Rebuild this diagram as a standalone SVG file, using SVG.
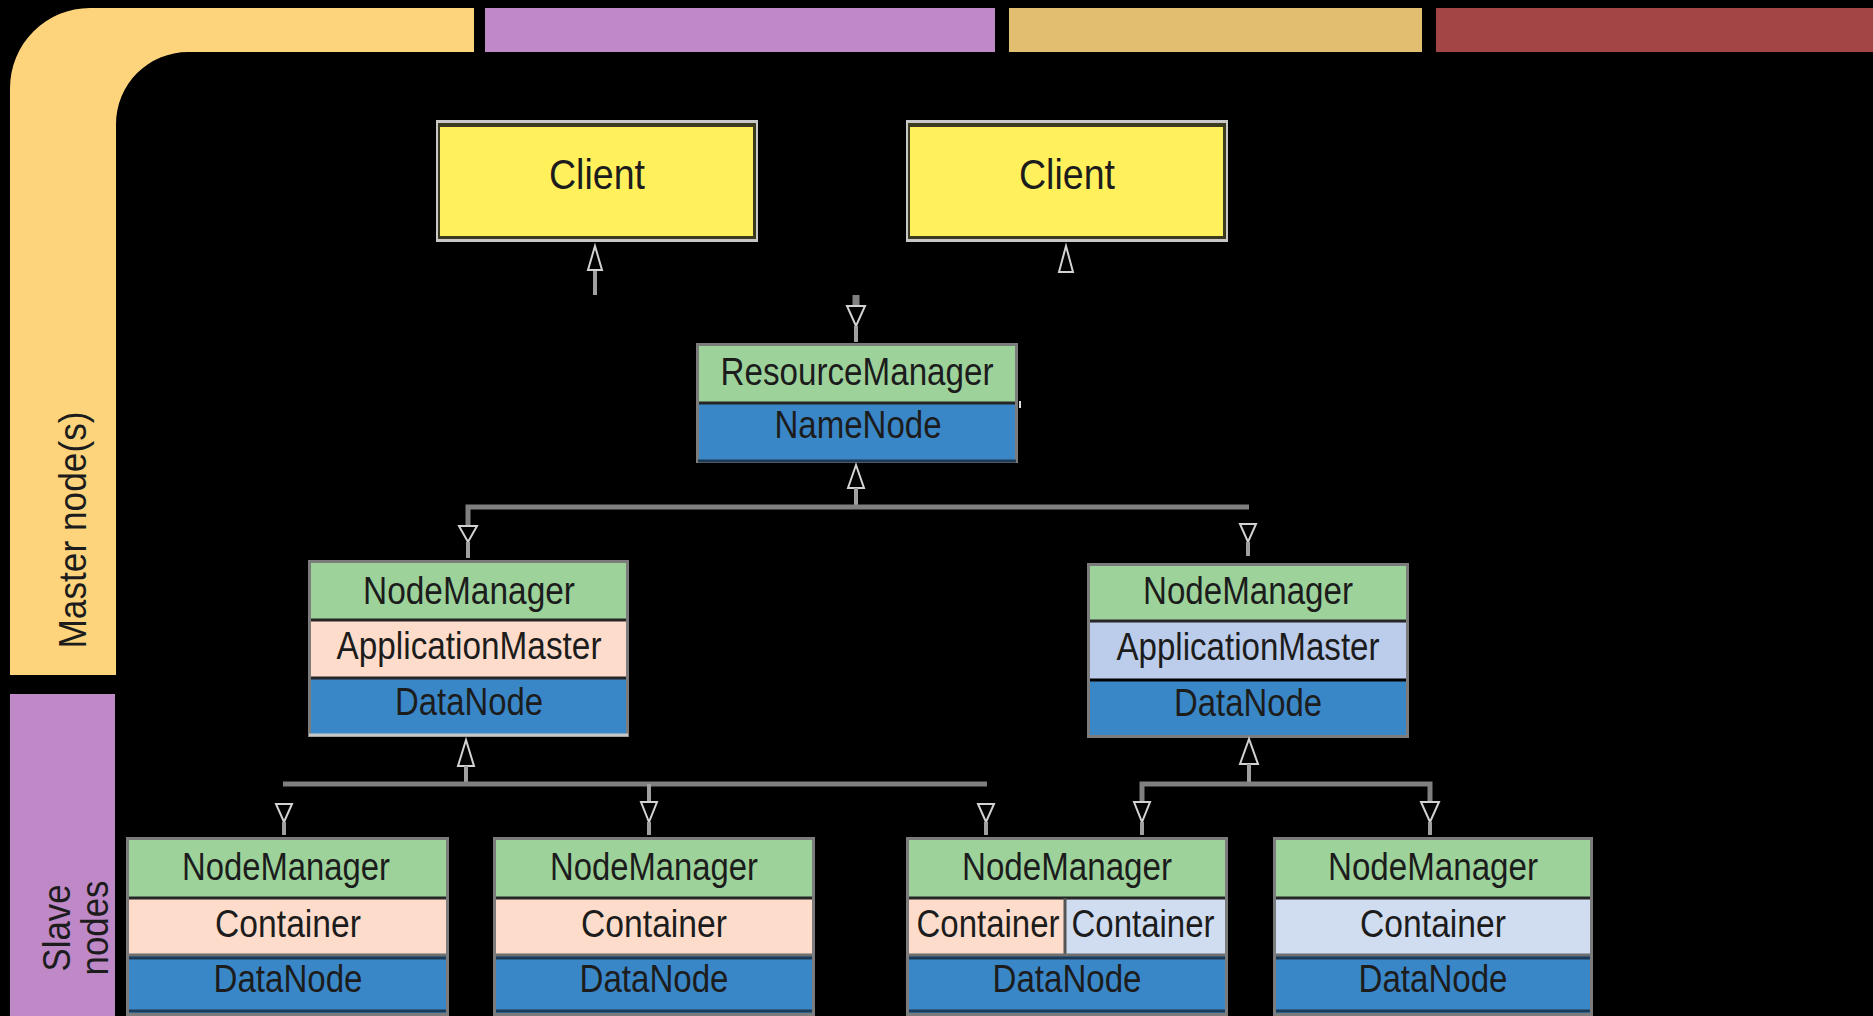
<svg xmlns="http://www.w3.org/2000/svg" width="1873" height="1016" viewBox="0 0 1873 1016">
  <defs>
    <style>
      .lbl { font-family: "Liberation Sans", Arial, sans-serif; fill: #1c1c1c; text-anchor: middle; }
      .t38 { font-size: 38px; }
      .t42 { font-size: 42px; }
      .green { fill: #9dd39b; }
      .peach { fill: #fedccb; }
      .lblue { fill: #bbcdeb; }
      .cblue { fill: #d0ddf1; }
      .blue { fill: #3a87c8; }
      .yellow { fill: #fff05c; }
      .sep { stroke: #262626; stroke-width: 3; }
      .frame { fill: none; stroke: #7c7c7c; stroke-width: 3; }
      .wire { fill: none; stroke: #808080; stroke-width: 5; }
      .stem { fill: none; stroke: #a0a0a0; stroke-width: 4; }
      .head { fill: #000; stroke: #d2d2d2; stroke-width: 2; }
    </style>
  </defs>

  <!-- backdrop -->
  <rect x="0" y="0" width="1873" height="1016" fill="#000"/>

  <!-- coloured bands along the top and left edge -->
  <g id="bands">
    <path d="M10 675 L10 88 A80 80 0 0 1 90 8 L474 8 L474 52 L188 52 A72 72 0 0 0 116 124 L116 675 Z" fill="#fdd47c"/>
    <rect x="485" y="8" width="510" height="44" fill="#bf89c8"/>
    <rect x="1009" y="8" width="413" height="44" fill="#e2be70"/>
    <rect x="1436" y="8" width="437" height="44" fill="#a34545"/>
    <rect x="10" y="694" width="105" height="322" fill="#bf89c8"/>
  </g>

  <!-- band captions -->
  <g id="band-labels">
    <text class="lbl t38" transform="translate(86 530) rotate(-90)" textLength="237" lengthAdjust="spacingAndGlyphs">Master node(s)</text>
    <text class="lbl t38" transform="translate(70 928) rotate(-90)" textLength="87" lengthAdjust="spacingAndGlyphs">Slave</text>
    <text class="lbl t38" transform="translate(108 928) rotate(-90)" textLength="95" lengthAdjust="spacingAndGlyphs">nodes</text>
  </g>

  <!-- clients -->
  <g id="client-1">
    <rect x="436" y="120" width="322" height="122" fill="#c8c8c8"/>
    <rect x="438" y="123" width="318" height="116" fill="#3d3b1f"/>
    <rect x="440" y="127" width="313" height="109" class="yellow"/>
    <text class="lbl t42" x="597" y="189" textLength="96" lengthAdjust="spacingAndGlyphs">Client</text>
  </g>
  <g id="client-2">
    <rect x="906" y="120" width="322" height="122" fill="#c8c8c8"/>
    <rect x="908" y="123" width="318" height="116" fill="#3d3b1f"/>
    <rect x="910" y="127" width="313" height="109" class="yellow"/>
    <text class="lbl t42" x="1067" y="189" textLength="96" lengthAdjust="spacingAndGlyphs">Client</text>
  </g>

  <!-- resource manager -->
  <g id="resource-manager">
    <rect x="697" y="344" width="320" height="59" class="green"/>
    <rect x="697" y="403" width="320" height="58" class="blue"/>
    <line x1="697" y1="403" x2="1017" y2="403" class="sep"/>
    <rect x="697.5" y="344.5" width="319" height="117" class="frame" stroke="#9a9a9a"/>
    <line x1="698" y1="461" x2="1016" y2="461" stroke="#1e3a55" stroke-width="3"/>
    <line x1="1020" y1="401" x2="1020" y2="408" stroke="#e0e0e0" stroke-width="2"/>
    <text class="lbl t38" x="857" y="385" textLength="273" lengthAdjust="spacingAndGlyphs">ResourceManager</text>
    <text class="lbl t38" x="858" y="438" textLength="167" lengthAdjust="spacingAndGlyphs">NameNode</text>
  </g>

  <!-- node managers hosting application masters -->
  <g id="nm-am-left">
    <rect x="309" y="561" width="319" height="59" class="green"/>
    <rect x="309" y="620" width="319" height="57" class="peach"/>
    <rect x="309" y="677" width="319" height="59" class="blue"/>
    <line x1="309" y1="620" x2="628" y2="620" class="sep"/>
    <line x1="309" y1="678" x2="628" y2="678" class="sep"/>
    <rect x="309.5" y="561.5" width="318" height="174" class="frame"/>
    <line x1="309" y1="735" x2="628" y2="735" stroke="#c8c8c8" stroke-width="3"/>
    <text class="lbl t38" x="469" y="604" textLength="212" lengthAdjust="spacingAndGlyphs">NodeManager</text>
    <text class="lbl t38" x="469" y="659" textLength="265" lengthAdjust="spacingAndGlyphs">ApplicationMaster</text>
    <text class="lbl t38" x="469" y="715" textLength="148" lengthAdjust="spacingAndGlyphs">DataNode</text>
  </g>
  <g id="nm-am-right">
    <rect x="1088" y="564" width="320" height="57" class="green"/>
    <rect x="1088" y="621" width="320" height="59" class="lblue"/>
    <rect x="1088" y="680" width="320" height="57" class="blue"/>
    <line x1="1088" y1="621" x2="1408" y2="621" class="sep"/>
    <line x1="1088" y1="680" x2="1408" y2="680" stroke="#000" stroke-width="3"/>
    <rect x="1088.5" y="564.5" width="319" height="172" class="frame"/>
    <text class="lbl t38" x="1248" y="604" textLength="210" lengthAdjust="spacingAndGlyphs">NodeManager</text>
    <text class="lbl t38" x="1248" y="660" textLength="263" lengthAdjust="spacingAndGlyphs">ApplicationMaster</text>
    <text class="lbl t38" x="1248" y="716" textLength="148" lengthAdjust="spacingAndGlyphs">DataNode</text>
  </g>

  <!-- slave node managers running containers -->
  <g id="nm-1">
    <rect x="127" y="838" width="321" height="60" class="green"/>
    <rect x="127" y="898" width="321" height="57" class="peach"/>
    <rect x="127" y="955" width="321" height="58" class="blue"/>
    <line x1="127" y1="898" x2="448" y2="898" class="sep"/>
    <line x1="127" y1="955" x2="448" y2="955" stroke="#6e6e6e" stroke-width="3"/>
    <line x1="127" y1="958" x2="448" y2="958" stroke="#1e3a55" stroke-width="3"/>
    <line x1="127" y1="1011" x2="448" y2="1011" stroke="#1e3a55" stroke-width="3"/>
    <rect x="127.5" y="838.5" width="320" height="176" class="frame"/>
    <text class="lbl t38" x="286" y="880" textLength="208" lengthAdjust="spacingAndGlyphs">NodeManager</text>
    <text class="lbl t38" x="288" y="937" textLength="146" lengthAdjust="spacingAndGlyphs">Container</text>
    <text class="lbl t38" x="288" y="992" textLength="149" lengthAdjust="spacingAndGlyphs">DataNode</text>
  </g>
  <g id="nm-2">
    <rect x="494" y="838" width="320" height="60" class="green"/>
    <rect x="494" y="898" width="320" height="57" class="peach"/>
    <rect x="494" y="955" width="320" height="58" class="blue"/>
    <line x1="494" y1="898" x2="814" y2="898" class="sep"/>
    <line x1="494" y1="955" x2="814" y2="955" stroke="#6e6e6e" stroke-width="3"/>
    <line x1="494" y1="958" x2="814" y2="958" stroke="#1e3a55" stroke-width="3"/>
    <line x1="494" y1="1011" x2="814" y2="1011" stroke="#1e3a55" stroke-width="3"/>
    <rect x="494.5" y="838.5" width="319" height="176" class="frame"/>
    <text class="lbl t38" x="654" y="880" textLength="208" lengthAdjust="spacingAndGlyphs">NodeManager</text>
    <text class="lbl t38" x="654" y="937" textLength="146" lengthAdjust="spacingAndGlyphs">Container</text>
    <text class="lbl t38" x="654" y="992" textLength="149" lengthAdjust="spacingAndGlyphs">DataNode</text>
  </g>
  <g id="nm-3">
    <rect x="907" y="838" width="320" height="60" class="green"/>
    <rect x="907" y="898" width="157" height="57" class="peach"/>
    <rect x="1064" y="898" width="163" height="57" class="cblue"/>
    <rect x="907" y="955" width="320" height="58" class="blue"/>
    <line x1="907" y1="898" x2="1227" y2="898" class="sep"/>
    <line x1="1065" y1="898" x2="1065" y2="955" stroke="#555" stroke-width="3"/>
    <line x1="907" y1="955" x2="1227" y2="955" stroke="#6e6e6e" stroke-width="3"/>
    <line x1="907" y1="958" x2="1227" y2="958" stroke="#1e3a55" stroke-width="3"/>
    <line x1="907" y1="1011" x2="1227" y2="1011" stroke="#1e3a55" stroke-width="3"/>
    <rect x="907.5" y="838.5" width="319" height="176" class="frame"/>
    <text class="lbl t38" x="1067" y="880" textLength="210" lengthAdjust="spacingAndGlyphs">NodeManager</text>
    <text class="lbl t38" x="988" y="937" textLength="143" lengthAdjust="spacingAndGlyphs">Container</text>
    <text class="lbl t38" x="1143" y="937" textLength="143" lengthAdjust="spacingAndGlyphs">Container</text>
    <text class="lbl t38" x="1067" y="992" textLength="149" lengthAdjust="spacingAndGlyphs">DataNode</text>
  </g>
  <g id="nm-4">
    <rect x="1274" y="838" width="318" height="60" class="green"/>
    <rect x="1274" y="898" width="318" height="57" class="cblue"/>
    <rect x="1274" y="955" width="318" height="58" class="blue"/>
    <line x1="1274" y1="898" x2="1592" y2="898" class="sep"/>
    <line x1="1274" y1="955" x2="1592" y2="955" stroke="#6e6e6e" stroke-width="3"/>
    <line x1="1274" y1="958" x2="1592" y2="958" stroke="#1e3a55" stroke-width="3"/>
    <line x1="1274" y1="1011" x2="1592" y2="1011" stroke="#1e3a55" stroke-width="3"/>
    <rect x="1274.5" y="838.5" width="317" height="176" class="frame"/>
    <text class="lbl t38" x="1433" y="880" textLength="210" lengthAdjust="spacingAndGlyphs">NodeManager</text>
    <text class="lbl t38" x="1433" y="937" textLength="146" lengthAdjust="spacingAndGlyphs">Container</text>
    <text class="lbl t38" x="1433" y="992" textLength="149" lengthAdjust="spacingAndGlyphs">DataNode</text>
  </g>

  <!-- connectors -->
  <g id="connectors">
    <!-- client 1 -->
    <line x1="595" y1="268" x2="595" y2="295" class="stem"/>
    <polygon points="595,246 588,270 602,270" class="head"/>
    <!-- client 2 -->
    <polygon points="1066,246 1059,272 1073,272" class="head"/>
    <!-- into resource manager -->
    <line x1="856" y1="295" x2="856" y2="306" stroke="#808080" stroke-width="7"/>
    <polygon points="847,306 865,306 856,326" class="head"/>
    <line x1="856" y1="326" x2="856" y2="342" class="stem"/>
    <!-- resource manager to node managers -->
    <polygon points="856,465 848,488 864,488" class="head"/>
    <line x1="856" y1="488" x2="856" y2="507" class="stem"/>
    <polyline points="468,528 468,507 1249,507" class="wire"/>
    <polygon points="459,526 477,526 468,542" class="head"/>
    <line x1="468" y1="542" x2="468" y2="558" class="stem"/>
    <polygon points="1240,524 1256,524 1248,542" class="head"/>
    <line x1="1248" y1="542" x2="1248" y2="556" class="stem"/>
    <!-- left node manager to slaves -->
    <polygon points="466,740 458,766 474,766" class="head"/>
    <line x1="466" y1="766" x2="466" y2="784" class="stem"/>
    <line x1="283" y1="784" x2="987" y2="784" class="wire"/>
    <polygon points="276,804 292,804 284,822" class="head"/>
    <line x1="284" y1="822" x2="284" y2="835" class="stem"/>
    <line x1="649" y1="784" x2="649" y2="802" class="stem"/>
    <polygon points="641,802 657,802 649,822" class="head"/>
    <line x1="649" y1="822" x2="649" y2="835" class="stem"/>
    <polygon points="978,804 994,804 986,822" class="head"/>
    <line x1="986" y1="822" x2="986" y2="835" class="stem"/>
    <!-- right node manager to slaves -->
    <polygon points="1249,739 1240,764 1258,764" class="head"/>
    <line x1="1249" y1="764" x2="1249" y2="784" class="stem"/>
    <polyline points="1142,802 1142,784 1430,784 1430,802" class="wire"/>
    <polygon points="1134,802 1150,802 1142,822" class="head"/>
    <line x1="1142" y1="822" x2="1142" y2="835" class="stem"/>
    <polygon points="1421,802 1439,802 1430,822" class="head"/>
    <line x1="1430" y1="822" x2="1430" y2="835" class="stem"/>
  </g>
</svg>
